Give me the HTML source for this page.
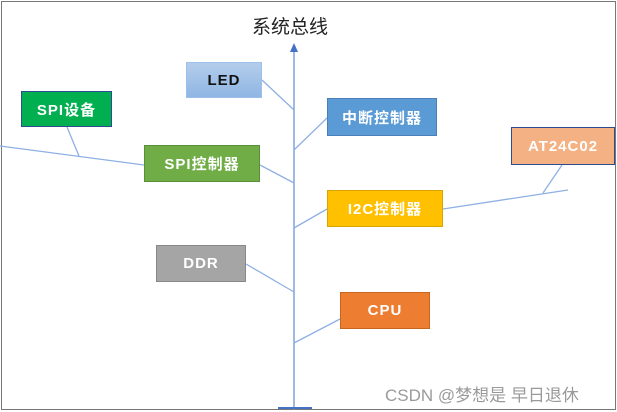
<!DOCTYPE html>
<html><head><meta charset="utf-8"><style>
body{margin:0;width:617px;height:412px;background:#fff;position:relative;overflow:hidden;font-family:"Liberation Sans","Noto Sans CJK SC",sans-serif}
.b{position:absolute;display:flex;align-items:center;justify-content:center;color:#fff;font-weight:bold;font-size:15px;box-sizing:border-box;letter-spacing:1px}
</style></head><body>
<div style="position:absolute;left:1px;top:1px;width:613px;height:407px;border:1px solid #777"></div>
<svg width="617" height="412" style="position:absolute;left:0;top:0">
<g stroke="#8eb0e4" stroke-width="1.3" fill="none">
<line x1="294" y1="50" x2="294" y2="410" stroke="#6f93d8"/>
<line x1="262" y1="80" x2="294" y2="110"/>
<line x1="327" y1="118" x2="294" y2="150"/>
<line x1="260" y1="165" x2="294" y2="183"/>
<line x1="327" y1="209" x2="294" y2="228"/>
<line x1="443" y1="209" x2="568" y2="190"/>
<line x1="562" y1="165" x2="543" y2="193"/>
<line x1="246" y1="264" x2="294" y2="292"/>
<line x1="340" y1="319" x2="294" y2="343"/>
<line x1="144" y1="165" x2="0" y2="146"/>
<line x1="67" y1="127" x2="79" y2="156"/>
</g>
<polygon points="294,43 290,52 298,52" fill="#4472c4"/>
<line x1="278" y1="408" x2="312" y2="408" stroke="#4472c4" stroke-width="2"/>
</svg>
<div style="position:absolute;left:252px;top:12px;font-size:19px;color:#222">系统总线</div>
<div class="b" style="left:186px;top:62px;width:76px;height:36px;background:linear-gradient(#b4cdeb,#8fb6e4);border:1px solid #9dc0ea;color:#111">LED</div>
<div class="b" style="left:21px;top:91px;width:91px;height:36px;background:#00b050;border:1px solid #2f4b8f">SPI设备</div>
<div class="b" style="left:327px;top:98px;width:110px;height:38px;background:#5b9bd5;border:1px solid #4a7fb8">中断控制器</div>
<div class="b" style="left:144px;top:145px;width:116px;height:37px;background:#70ad47;border:1px solid #5a8f39">SPI控制器</div>
<div class="b" style="left:511px;top:127px;width:104px;height:38px;background:#f4b183;border:1px solid #2f4b8f">AT24C02</div>
<div class="b" style="left:327px;top:190px;width:116px;height:37px;background:#ffc000;border:1px solid #d9a300">I2C控制器</div>
<div class="b" style="left:156px;top:245px;width:90px;height:37px;background:#a5a5a5;border:1px solid #888">DDR</div>
<div class="b" style="left:340px;top:292px;width:90px;height:37px;background:#ed7d31;border:1px solid #c9651f">CPU</div>
<div style="position:absolute;left:385px;top:381px;font-size:17px;color:#9a9a9a">CSDN @梦想是 早日退休</div>
</body></html>
